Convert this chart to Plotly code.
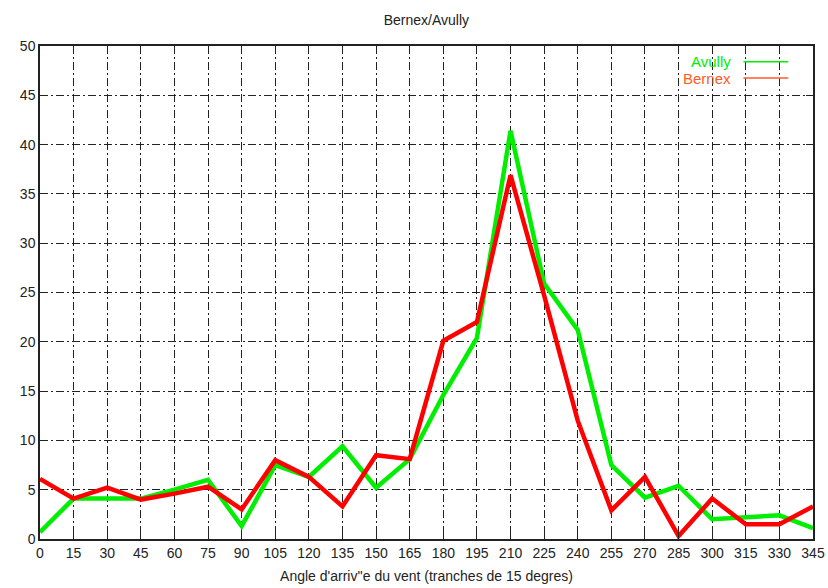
import plotly.graph_objects as go

angles = [0, 15, 30, 45, 60, 75, 90, 105, 120, 135, 150, 165, 180, 195, 210, 225, 240, 255, 270, 285, 300, 315, 330, 345]
avully = [0.7, 4.1, 4.1, 4.1, 5.0, 6.0, 1.3, 7.5, 6.3, 9.4, 5.2, 8.1, 14.6, 20.4, 41.4, 25.9, 21.2, 7.5, 4.2, 5.4, 2.0, 2.2, 2.4, 1.1]
bernex = [6.1, 4.1, 5.2, 4.0, 4.6, 5.3, 3.0, 8.0, 6.3, 3.3, 8.5, 8.1, 20.1, 22.0, 36.9, 24.7, 12.0, 2.9, 6.3, 0.3, 4.1, 1.5, 1.5, 3.3]
y_ticks = [0, 5, 10, 15, 20, 25, 30, 35, 40, 45, 50]

GREEN = "#00ee00"
RED = "#ff0000"
LEG_RED = "#ff5a28"
FONT = "Liberation Sans, Arial, sans-serif"

fig = go.Figure()
fig.add_trace(go.Scatter(x=angles, y=avully, mode="lines", name="Avully",
                         line=dict(color=GREEN, width=4.5), showlegend=False))
fig.add_trace(go.Scatter(x=angles, y=bernex, mode="lines", name="Bernex",
                         line=dict(color=RED, width=4.5), showlegend=False))

grid = dict(showgrid=True, gridcolor="#222222", gridwidth=1, griddash="8px,3px,2px,3px",
            showline=True, linecolor="#222222", linewidth=1.5, mirror="ticks",
            ticks="inside", ticklen=7, tickcolor="#222222", zeroline=False,
            automargin=False,
            tickfont=dict(family=FONT, size=14, color="#222222"))

fig.update_xaxes(range=[0, 345], tickvals=angles, ticktext=[str(a) for a in angles],
                 title=dict(text="Angle d'arriv''e du vent (tranches de 15 degres)",
                            font=dict(family=FONT, size=14, color="#222222"), standoff=12),
                 **grid)
fig.update_yaxes(range=[0, 50], tickvals=y_ticks, ticktext=[str(v) for v in y_ticks], **grid)

# legend (text right-aligned with line sample on the right)
legend_items = [("Avully", GREEN, 0.968), ("Bernex", LEG_RED, 0.935)]
for name, col, yp in legend_items:
    fig.add_annotation(x=0.897, y=yp, xref="paper", yref="paper", text=name, showarrow=False,
                       xanchor="right", yanchor="middle",
                       font=dict(family=FONT, size=15, color=col))
    fig.add_shape(type="line", xref="paper", yref="paper", x0=0.91, x1=0.968, y0=yp, y1=yp,
                  line=dict(color=col, width=1.5))

fig.update_layout(
    width=828, height=588,
    margin=dict(l=40, r=15, t=46, b=49),
    paper_bgcolor="white", plot_bgcolor="white",
    title=dict(text="Bernex/Avully", x=0.515, xanchor="center", y=0.965, yanchor="middle",
               font=dict(family=FONT, size=14, color="#222222")),
)

fig.write_html("out.html")
